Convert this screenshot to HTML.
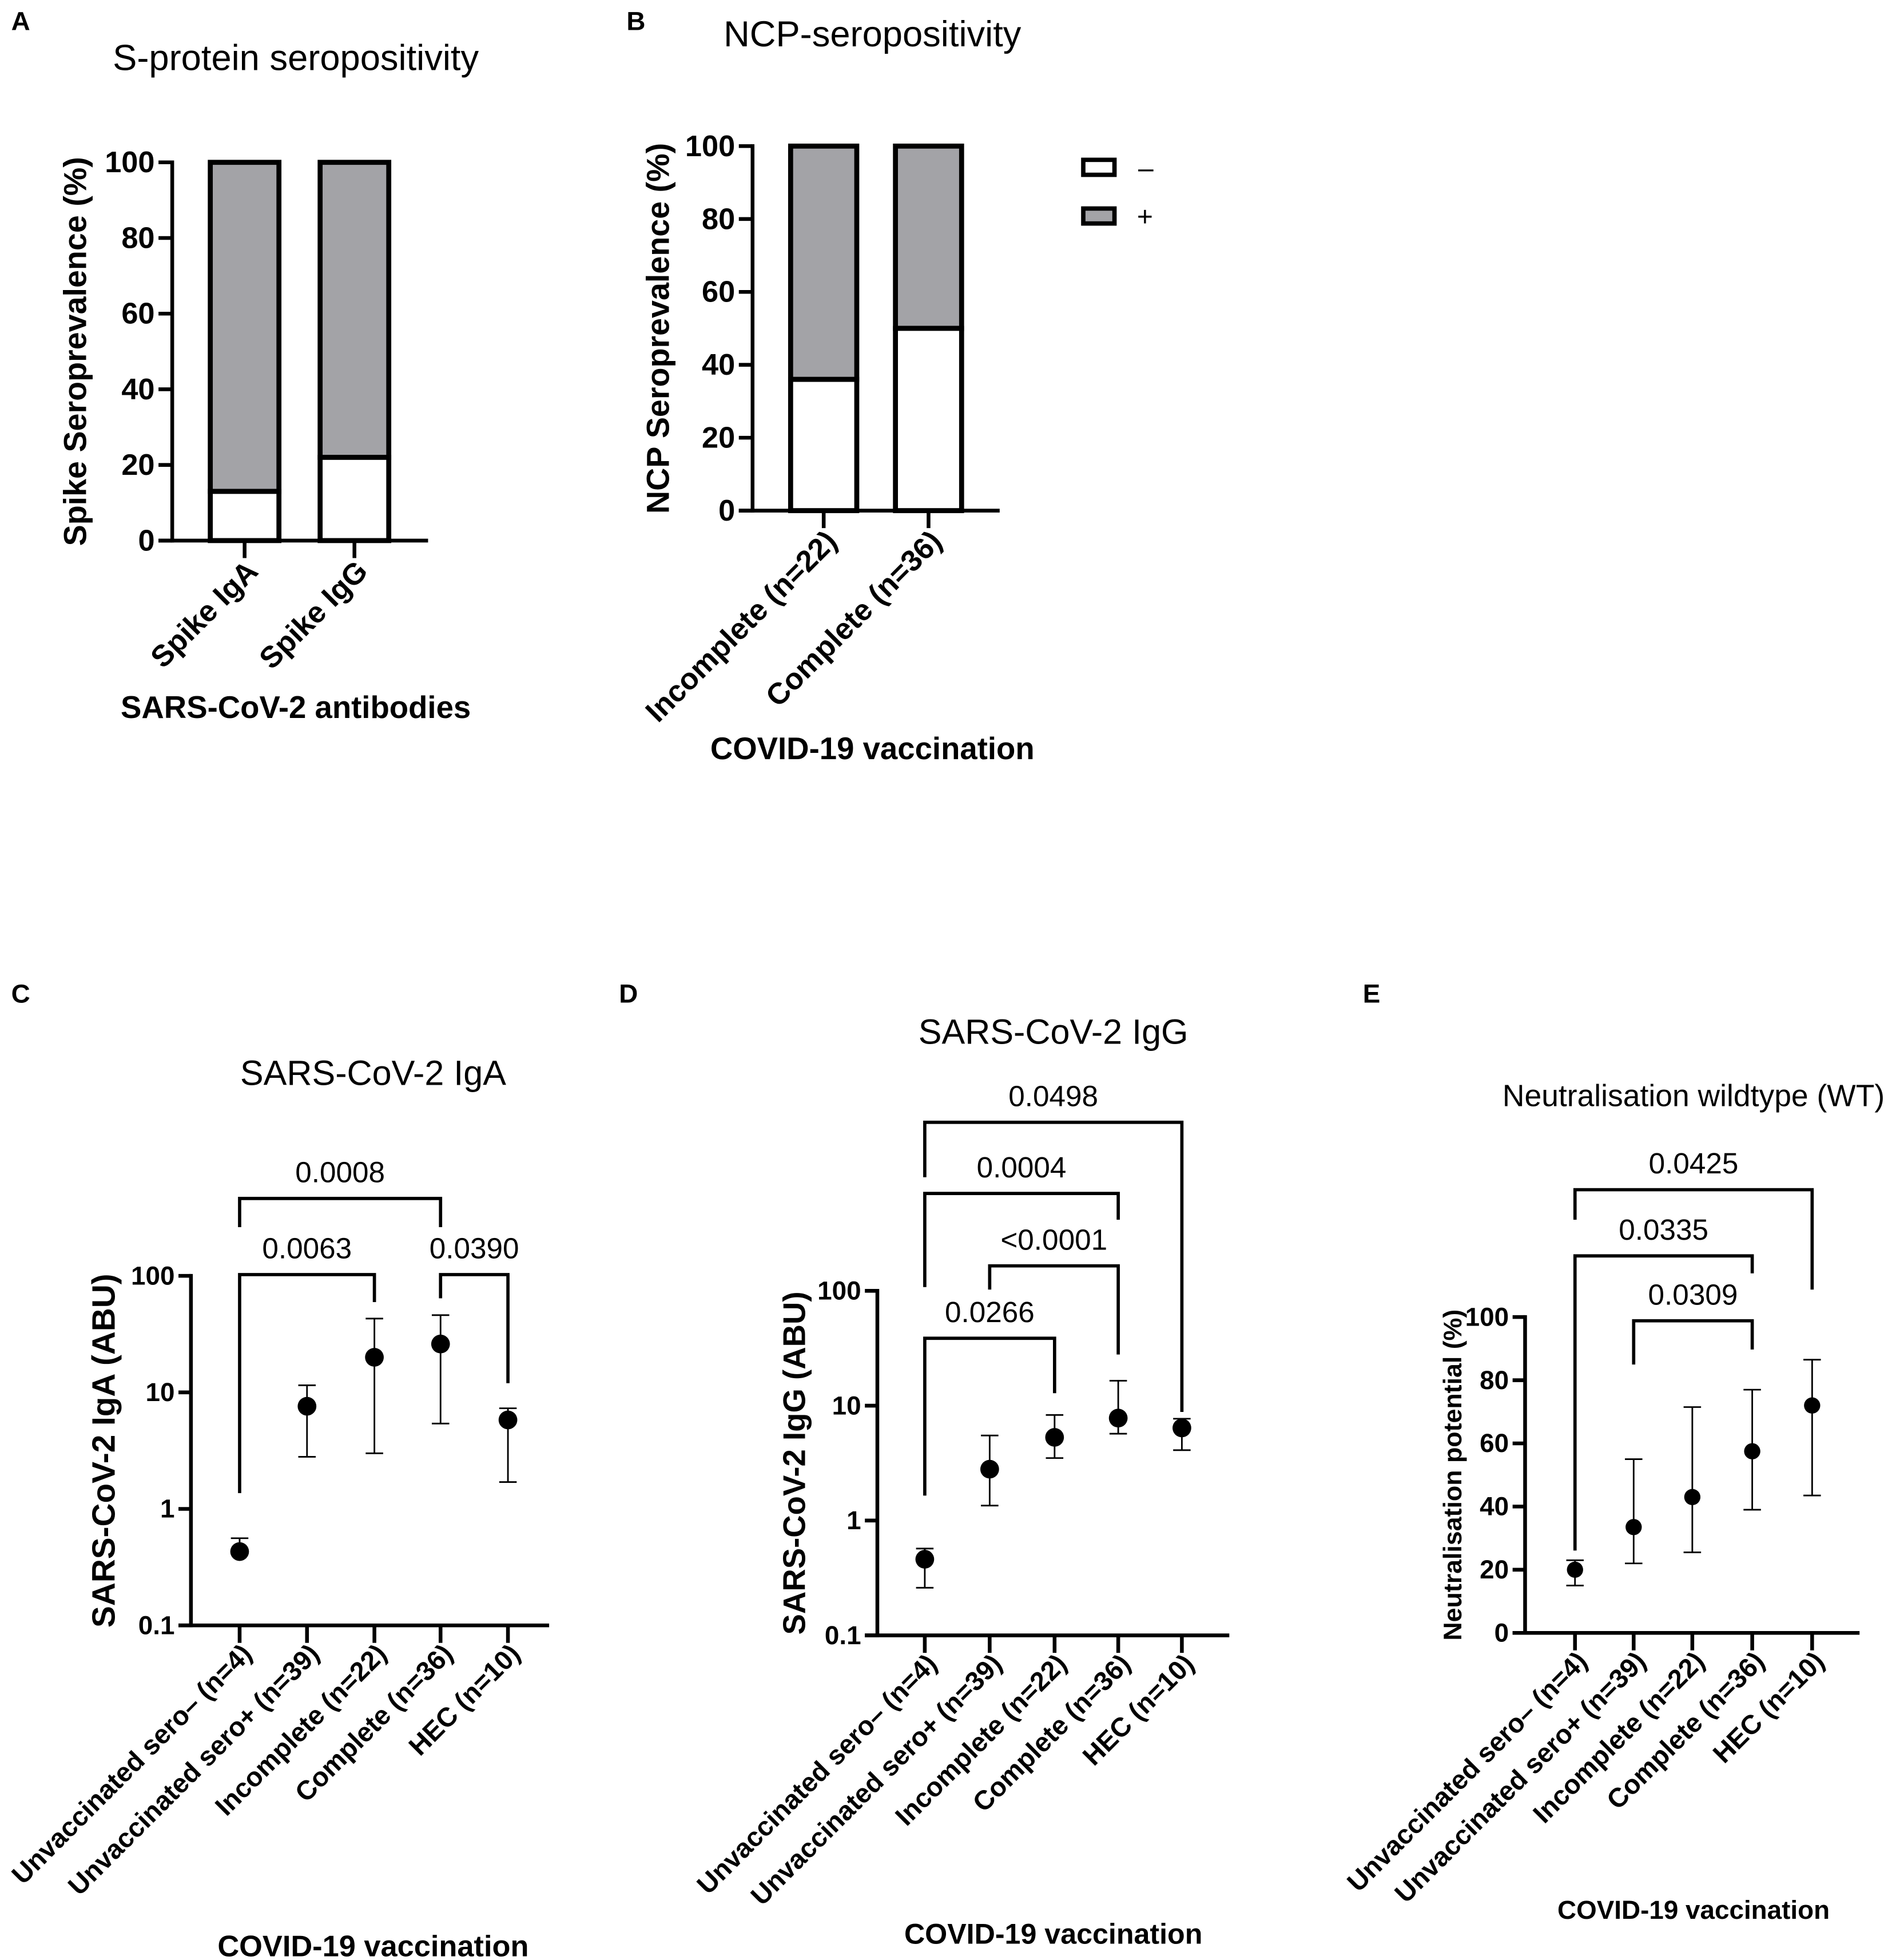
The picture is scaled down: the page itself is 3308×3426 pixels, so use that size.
<!DOCTYPE html>
<html><head><meta charset="utf-8"><style>
html,body{margin:0;padding:0;background:#fff}
svg{display:block}
text{font-family:"Liberation Sans",Arial,sans-serif;fill:#000}
</style></head><body>
<svg id="fig" xmlns="http://www.w3.org/2000/svg" width="3308" height="3426" viewBox="0 0 1516 1570">
<rect x="0" y="0" width="1516" height="1570" fill="#fff"/>
</svg>
<script>
// ---------- Data ----------
const aCats = ["Spike IgA", "Spike IgG"];
const aNeg = [13, 22];
const bCats = ["Incomplete (n=22)", "Complete (n=36)"];
const bNeg = [36, 50];
const pctTicks = [0, 20, 40, 60, 80, 100];
const groupCats = ["Unvaccinated sero\u2013 (n=4)", "Unvaccinated sero+ (n=39)", "Incomplete (n=22)", "Complete (n=36)", "HEC (n=10)"];
const logTicks = [0.1, 1, 10, 100];
const logTickLabels = ["0.1", "1", "10", "100"];
const cMean = [0.43, 7.6, 20, 26, 5.8];
const cLow = [0.43, 2.8, 3.0, 5.4, 1.7];
const cHigh = [0.56, 11.5, 43, 46, 7.3];
const dMean = [0.46, 2.8, 5.3, 7.8, 6.4];
const dLow = [0.26, 1.35, 3.5, 5.7, 4.1];
const dHigh = [0.57, 5.5, 8.3, 16.5, 7.7];
const eMean = [20, 33.5, 43, 57.5, 72];
const eLow = [15, 22, 25.5, 39, 43.5];
const eHigh = [23, 55, 71.5, 77, 86.5];
const cPvals = ["0.0008", "0.0063", "0.0390"];
const dPvals = ["0.0498", "0.0004", "<0.0001", "0.0266"];
const ePvals = ["0.0425", "0.0335", "0.0309"];

const NS = "http://www.w3.org/2000/svg";
const svg = document.getElementById('fig');
function el(tag, attrs, parent) {
  const e = document.createElementNS(NS, tag);
  for (const k in attrs) e.setAttribute(k, attrs[k]);
  (parent || svg).appendChild(e);
  return e;
}
function txt(x, y, s, size, bold, anchor, parent, transform) {
  const t = el('text', {x: x, y: y, 'font-size': size, 'text-anchor': anchor || 'middle'}, parent);
  if (bold) t.setAttribute('font-weight', 'bold');
  if (transform) t.setAttribute('transform', transform);
  t.textContent = s;
  return t;
}
function line(x1, y1, x2, y2, w, parent) {
  return el('line', {x1: x1, y1: y1, x2: x2, y2: y2, stroke: '#000', 'stroke-width': w}, parent);
}
function linScale(d0, d1, r0, r1) { return v => r0 + (v - d0) / (d1 - d0) * (r1 - r0); }
function logScale(d0, d1, r0, r1) { return v => r0 + (Math.log10(v) - Math.log10(d0)) / (Math.log10(d1) - Math.log10(d0)) * (r1 - r0); }

// ---------- Panel letters ----------
[["A",9,24],["B",502,24],["C",9,803],["D",496,803],["E",1092,803]].forEach(p => {
  const t = txt(p[1], p[2], p[0], 21, true, 'start');
  
  
});

// ---------- Stacked bar panels ----------
function barPanel(cfg) {
  const g = el('g', {});
  
  
  const y = linScale(0, 100, cfg.y0, cfg.y100);
  const t = txt(cfg.titleX, cfg.titleY, cfg.title, 29, false, 'middle', g);
  
  
  pctTicks.forEach(v => {
    line(cfg.axisX - 11, y(v), cfg.axisX, y(v), 3, g);
    const tl = txt(cfg.axisX - 14, y(v) + 8, String(v), 24, true, 'end', g);
    
    
  });
  line(cfg.axisX, y(100) - 1.5, cfg.axisX, y(0) + 1.5, 3, g);
  line(cfg.axisX - 11, y(0), cfg.xEnd, y(0), 3, g);
  cfg.cats.forEach((c, i) => {
    const cx = cfg.catX[i];
    const x0 = cx - cfg.bw / 2;
    const pos = el('rect', {x: x0, y: y(100), width: cfg.bw, height: y(cfg.neg[i]) - y(100), fill: '#a3a3a7', stroke: '#000', 'stroke-width': 4}, g);
    
    
    const neg = el('rect', {x: x0, y: y(cfg.neg[i]), width: cfg.bw, height: y(0) - y(cfg.neg[i]), fill: '#fff', stroke: '#000', 'stroke-width': 4}, g);
    
    
    line(cx, y(0), cx, y(0) + 14, 3, g);
    const lab = txt(0, 0, c, 24, true, 'end', g, 'translate(' + (cx + 12) + ',' + (y(0) + 26) + ') rotate(-45)');
    
    
  });
  const yt = txt(0, 0, cfg.yTitle, 25.5, true, 'middle', g, 'translate(' + cfg.yTitleX + ',' + ((y(0) + y(100)) / 2) + ') rotate(-90)');
  
  
  const xt = txt(cfg.xTitleX, cfg.xTitleY, cfg.xTitle, 25, true, 'middle', g);
  
  
}
barPanel({name:'panel-a-chart', title:'S-protein seropositivity', titleX:237, titleY:56, y0:433, y100:130, axisX:138, xEnd:343,
  cats:aCats, neg:aNeg, catX:[196,284], bw:55, yTitle:'Spike Seroprevalence (%)', yTitleX:69, xTitle:'SARS-CoV-2 antibodies', xTitleX:237, xTitleY:575});
barPanel({name:'panel-b-chart', title:'NCP-seropositivity', titleX:699, titleY:37, y0:409, y100:117, axisX:603, xEnd:801,
  cats:bCats, neg:bNeg, catX:[660,744], bw:53, yTitle:'NCP Seroprevalence (%)', yTitleX:536, xTitle:'COVID-19 vaccination', xTitleX:699, xTitleY:608});

// Legend
(function(){
  const g = el('g', {});
  
  
  const e1 = el('rect', {x:868, y:128, width:25, height:12, fill:'#fff', stroke:'#000', 'stroke-width':3.5}, g);
  
  
  const e2 = el('rect', {x:868, y:167, width:25, height:12, fill:'#a3a3a7', stroke:'#000', 'stroke-width':3.5}, g);
  
  
  const l1 = txt(912, 142, '\u2013', 22, false, 'start', g);
  
  
  const l2 = txt(911, 181, '+', 22, false, 'start', g);
  
  
})();

// ---------- Dot plot panels ----------
function dotPanel(cfg) {
  const g = el('g', {});
  
  
  const y = cfg.scale;
  const t = txt(cfg.titleX, cfg.titleY, cfg.title, cfg.titleSize || 28, false, 'middle', g);
  
  
  cfg.ticks.forEach((v, i) => {
    line(cfg.axisX - 10, y(v), cfg.axisX, y(v), 3, g);
    const tl = txt(cfg.axisX - 13, y(v) + 7, cfg.tickLabels[i], 21, true, 'end', g);
    
    
  });
  line(cfg.axisX, y(cfg.top) - 1.5, cfg.axisX, y(cfg.bottom) + 1.5, 3, g);
  line(cfg.axisX - 10, y(cfg.bottom), cfg.xEnd, y(cfg.bottom), 3, g);
  groupCats.forEach((c, i) => {
    const cx = cfg.catX[i];
    line(cx, y(cfg.bottom), cx, y(cfg.bottom) + 14, 3, g);
    const lab = txt(0, 0, c, 21.5, true, 'end', g, 'translate(' + (cx + 11) + ',' + (y(cfg.bottom) + 24) + ') rotate(-45)');
    
    
    const eb = el('g', {}, g);
    
    
    line(cx, y(cfg.low[i]), cx, y(cfg.high[i]), 1.3, eb);
    line(cx - 7, y(cfg.high[i]), cx + 7, y(cfg.high[i]), 1.3, eb);
    if (cfg.low[i] < cfg.mean[i] * 0.9 || !cfg.log) line(cx - 7, y(cfg.low[i]), cx + 7, y(cfg.low[i]), 1.3, eb);
    const dot = el('circle', {cx: cx, cy: y(cfg.mean[i]), r: cfg.r || 7.5, fill: '#000'}, g);
    
    
  });
  cfg.brackets.forEach((b, i) => {
    const bg = el('g', {}, g);
    
    
    const x1 = cfg.catX[b[0]], x2 = cfg.catX[b[1]];
    el('path', {d: 'M' + x1 + ',' + b[3] + ' L' + x1 + ',' + b[2] + ' L' + x2 + ',' + b[2] + ' L' + x2 + ',' + b[4], fill: 'none', stroke: '#000', 'stroke-width': 2.6}, bg);
    const pl = txt((x1 + x2) / 2, b[2] - 13, cfg.pvals[i], 23.5, false, 'middle', bg);
    
    
  });
  const yt = txt(0, 0, cfg.yTitle, cfg.yTitleSize || 26, true, 'middle', g, 'translate(' + cfg.yTitleX + ',' + ((y(cfg.top) + y(cfg.bottom)) / 2) + ') rotate(-90)');
  
  
  const xt = txt(cfg.xTitleX, cfg.xTitleY, 'COVID-19 vaccination', cfg.xTitleSize || 24, true, 'middle', g);
  
  
}

dotPanel({name:'panel-c-chart', log:true, scale:logScale(0.1, 100, 1302, 1022), top:100, bottom:0.1,
  ticks:logTicks, tickLabels:logTickLabels, axisX:153, xEnd:440, catX:[192,246,300,353,407],
  mean:cMean, low:cLow, high:cHigh, pvals:cPvals,
  brackets:[[0,3,960,983,983],[0,2,1021,1196,1043],[3,4,1021,1040,1108]],
  title:'SARS-CoV-2 IgA', titleX:299, titleY:869, yTitle:'SARS-CoV-2 IgA (ABU)', yTitleX:92, xTitleX:299, xTitleY:1567});

dotPanel({name:'panel-d-chart', log:true, scale:logScale(0.1, 100, 1310, 1034), top:100, bottom:0.1,
  ticks:logTicks, tickLabels:logTickLabels, axisX:703, xEnd:985, catX:[741,793,845,896,947],
  mean:dMean, low:dLow, high:dHigh, pvals:dPvals,
  brackets:[[0,4,899,943,1131],[0,3,956,1031,977],[1,3,1014,1033,1085],[0,2,1072,1198,1116]],
  title:'SARS-CoV-2 IgG', titleX:844, titleY:836, yTitle:'SARS-CoV-2 IgG (ABU)', yTitleSize:25, yTitleX:645, xTitleX:844, xTitleY:1557, xTitleSize:23});

dotPanel({name:'panel-e-chart', log:false, r:6.5, scale:linScale(0, 100, 1308, 1055), top:100, bottom:0,
  ticks:pctTicks, tickLabels:pctTicks.map(String), axisX:1222, xEnd:1490, catX:[1262,1309,1356,1404,1452],
  mean:eMean, low:eLow, high:eHigh, pvals:ePvals,
  brackets:[[0,4,953,977,1033],[0,3,1006,1242,1020],[1,3,1058,1093,1081]],
  title:'Neutralisation wildtype (WT)', titleX:1357, titleY:886, titleSize:24.5, yTitle:'Neutralisation potential (%)', yTitleSize:20.5, yTitleX:1171, xTitleX:1357, xTitleY:1537, xTitleSize:21});
</script>
</body></html>
